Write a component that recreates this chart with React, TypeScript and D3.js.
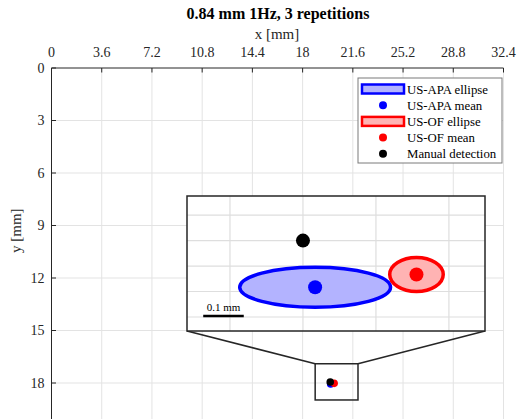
import React, { useEffect, useRef } from 'react';
import { scaleLinear, select } from 'd3';

const W = 530;
const H = 419;
const FONT = "'Liberation Serif', 'Times New Roman', 'DejaVu Serif', serif";

// main axes
const xTicks = [0, 3.6, 7.2, 10.8, 14.4, 18, 21.6, 25.2, 28.8, 32.4];
const yTicks = [0, 3, 6, 9, 12, 15, 18];
const xDomain = [0, 32.4];
const yDomain = [0, 20];

// measured points [x, y] in mm
const apaMean = [20.01, 18.05];
const apaRadii = [0.186, 0.047];
const ofMean = [20.26, 18.02];
const ofRadii = [0.066, 0.04];
const manualPoint = [19.98, 17.94];

// zoomed inset
const insetXDomain = [19.694, 20.429];
const insetYDomain = [17.835, 18.153];
const insetXTicks = [19.8, 19.98, 20.16, 20.34];
const insetYTicks = [17.88, 17.94, 18.0, 18.06, 18.12];
const zoomBoxX = [18.9, 21.97];
const zoomBoxY = [16.9, 18.97];
const scaleBarStart = 19.734;
const scaleBarLength = 0.1;

const legendItems = [
  { label: 'US-APA ellipse', kind: 'patch', color: 'blue', fill: '#b3b3ff' },
  { label: 'US-APA mean', kind: 'dot', color: 'blue' },
  { label: 'US-OF ellipse', kind: 'patch', color: 'red', fill: '#ffb3b3' },
  { label: 'US-OF mean', kind: 'dot', color: 'red' },
  { label: 'Manual detection', kind: 'dot', color: 'black' }
];

const App = () => {
  const ref = useRef<SVGSVGElement>(null);

  useEffect(() => {
    const svg = select(ref.current);
    svg.selectAll('*').remove();

    const x = scaleLinear().domain(xDomain).range([51.5, 503.5]);
    const y = scaleLinear().domain(yDomain).range([68, 418]);

    // grid
    const grid = svg.append('g');
    grid.selectAll('.gx')
      .data(xTicks.slice(1))
      .enter()
      .append('line')
      .attr('x1', d => x(d)).attr('x2', d => x(d))
      .attr('y1', y(0)).attr('y2', H)
      .attr('stroke', '#e3e3e3').attr('stroke-width', 1);
    grid.selectAll('.gy')
      .data(yTicks.slice(1))
      .enter()
      .append('line')
      .attr('x1', x(0)).attr('x2', x(32.4))
      .attr('y1', d => y(d)).attr('y2', d => y(d))
      .attr('stroke', '#e3e3e3').attr('stroke-width', 1);

    // axes lines + ticks (inward)
    const axes = svg.append('g').attr('stroke', '#262626');
    axes.append('line')
      .attr('x1', x(0)).attr('x2', x(32.4)).attr('y1', y(0)).attr('y2', y(0));
    axes.append('line')
      .attr('x1', x(0)).attr('x2', x(0)).attr('y1', y(0)).attr('y2', H);
    axes.selectAll('.tx')
      .data(xTicks)
      .enter()
      .append('line')
      .attr('x1', d => x(d)).attr('x2', d => x(d))
      .attr('y1', y(0)).attr('y2', y(0) + 4.5);
    axes.selectAll('.ty')
      .data(yTicks)
      .enter()
      .append('line')
      .attr('x1', x(0)).attr('x2', x(0) + 4.5)
      .attr('y1', d => y(d)).attr('y2', d => y(d));

    const labels = svg.append('g')
      .style('font-family', FONT)
      .attr('fill', '#262626')
      .style('font-size', '14px');
    labels.selectAll('.lx')
      .data(xTicks)
      .enter()
      .append('text')
      .attr('x', d => x(d))
      .attr('y', 57)
      .attr('text-anchor', 'middle')
      .text(d => String(d));
    labels.selectAll('.ly')
      .data(yTicks)
      .enter()
      .append('text')
      .attr('x', x(0) - 7)
      .attr('y', d => y(d) + 4.5)
      .attr('text-anchor', 'end')
      .text(d => String(d));

    svg.append('text')
      .attr('x', 277).attr('y', 39)
      .attr('text-anchor', 'middle')
      .style('font-family', FONT).style('font-size', '15px').attr('fill', '#262626')
      .text('x [mm]');
    svg.append('text')
      .attr('transform', `translate(21,${y(9.3)}) rotate(-90)`)
      .attr('text-anchor', 'middle')
      .style('font-family', FONT).style('font-size', '15px').attr('fill', '#262626')
      .text('y [mm]');
    svg.append('text')
      .attr('x', 278).attr('y', 19)
      .attr('text-anchor', 'middle')
      .style('font-family', FONT).style('font-size', '16px').style('font-weight', 'bold')
      .attr('fill', '#000')
      .text('0.84 mm 1Hz, 3 repetitions');

    // data marks, shared by main axes and inset
    const drawMarks = (g, sx, sy, dotR, ellW) => {
      g.append('ellipse')
        .attr('cx', sx(apaMean[0])).attr('cy', sy(apaMean[1]))
        .attr('rx', sx(apaMean[0] + apaRadii[0]) - sx(apaMean[0]))
        .attr('ry', sy(apaMean[1] + apaRadii[1]) - sy(apaMean[1]))
        .attr('fill', '#b3b3ff').attr('stroke', 'blue').attr('stroke-width', ellW);
      g.append('circle')
        .attr('cx', sx(apaMean[0])).attr('cy', sy(apaMean[1])).attr('r', dotR)
        .attr('fill', 'blue');
      g.append('ellipse')
        .attr('cx', sx(ofMean[0])).attr('cy', sy(ofMean[1]))
        .attr('rx', sx(ofMean[0] + ofRadii[0]) - sx(ofMean[0]))
        .attr('ry', sy(ofMean[1] + ofRadii[1]) - sy(ofMean[1]))
        .attr('fill', '#ffb3b3').attr('stroke', 'red').attr('stroke-width', ellW);
      g.append('circle')
        .attr('cx', sx(ofMean[0])).attr('cy', sy(ofMean[1])).attr('r', dotR)
        .attr('fill', 'red');
      g.append('circle')
        .attr('cx', sx(manualPoint[0])).attr('cy', sy(manualPoint[1])).attr('r', dotR)
        .attr('fill', 'black');
    };
    drawMarks(svg.append('g'), x, y, 3.8, 1);

    // zoom box
    svg.append('rect')
      .attr('x', x(zoomBoxX[0])).attr('y', y(zoomBoxY[0]))
      .attr('width', x(zoomBoxX[1]) - x(zoomBoxX[0]))
      .attr('height', y(zoomBoxY[1]) - y(zoomBoxY[0]))
      .attr('fill', 'none').attr('stroke', '#262626').attr('stroke-width', 1.5);

    // inset
    const ix = scaleLinear().domain(insetXDomain).range([187, 485]);
    const iy = scaleLinear().domain(insetYDomain).range([196, 331]);

    const links = svg.append('g').attr('stroke', '#262626').attr('stroke-width', 1.5);
    links.append('line')
      .attr('x1', ix.range()[0]).attr('y1', iy.range()[1])
      .attr('x2', x(zoomBoxX[0])).attr('y2', y(zoomBoxY[0]));
    links.append('line')
      .attr('x1', ix.range()[1]).attr('y1', iy.range()[1])
      .attr('x2', x(zoomBoxX[1])).attr('y2', y(zoomBoxY[0]));

    const inset = svg.append('g');
    inset.append('rect')
      .attr('x', 187).attr('y', 196).attr('width', 298).attr('height', 135)
      .attr('fill', 'white');
    inset.selectAll('.igx')
      .data(insetXTicks)
      .enter()
      .append('line')
      .attr('x1', d => ix(d)).attr('x2', d => ix(d))
      .attr('y1', 196).attr('y2', 331)
      .attr('stroke', '#dedede').attr('stroke-width', 1.2);
    inset.selectAll('.igy')
      .data(insetYTicks)
      .enter()
      .append('line')
      .attr('x1', 187).attr('x2', 485)
      .attr('y1', d => iy(d)).attr('y2', d => iy(d))
      .attr('stroke', '#dedede').attr('stroke-width', 1.2);
    drawMarks(inset, ix, iy, 7, 3.5);

    // scale bar
    inset.append('line')
      .attr('x1', ix(scaleBarStart)).attr('x2', ix(scaleBarStart + scaleBarLength))
      .attr('y1', 316).attr('y2', 316)
      .attr('stroke', 'black').attr('stroke-width', 2.5);
    inset.append('text')
      .attr('x', (ix(scaleBarStart) + ix(scaleBarStart + scaleBarLength)) / 2)
      .attr('y', 311)
      .attr('text-anchor', 'middle')
      .style('font-family', FONT).style('font-size', '11px')
      .text('0.1 mm');
    inset.append('rect')
      .attr('x', 187).attr('y', 196).attr('width', 298).attr('height', 135)
      .attr('fill', 'none').attr('stroke', '#262626').attr('stroke-width', 1.5);

    // legend
    const legend = svg.append('g').attr('transform', 'translate(358,78)');
    legend.append('rect')
      .attr('width', 144).attr('height', 85)
      .attr('fill', 'white').attr('stroke', '#7a7a7a').attr('stroke-width', 1);
    const rows = legend.selectAll('.row')
      .data(legendItems)
      .enter()
      .append('g')
      .attr('transform', (d, i) => `translate(0,${11 + i * 16.2})`);
    rows.filter(d => d.kind === 'patch')
      .append('rect')
      .attr('x', 4).attr('y', -4.5).attr('width', 42).attr('height', 9)
      .attr('fill', d => d.fill).attr('stroke', d => d.color).attr('stroke-width', 2.5);
    rows.filter(d => d.kind === 'dot')
      .append('circle')
      .attr('cx', 25).attr('cy', 0).attr('r', 4)
      .attr('fill', d => d.color);
    rows.append('text')
      .attr('x', 49).attr('y', 4.5)
      .style('font-family', FONT).style('font-size', '12.8px')
      .attr('fill', '#000')
      .text(d => d.label);
  }, []);

  return (
    <svg
      ref={ref}
      width={W}
      height={H}
      style={{ position: 'absolute', left: 0, top: 0, background: 'white' }}
    />
  );
};

export default App;
